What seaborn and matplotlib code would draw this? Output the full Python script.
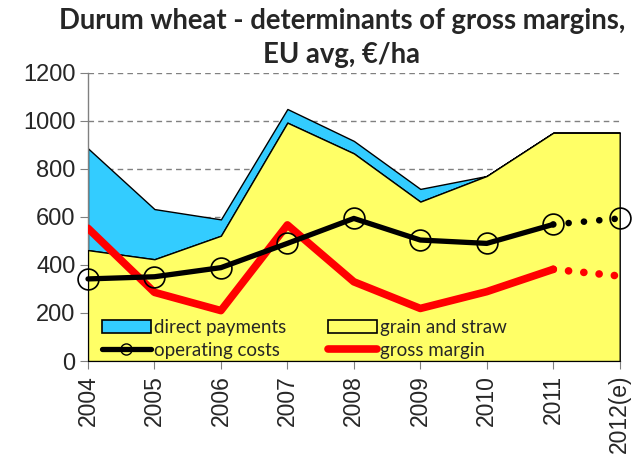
import numpy as np
import pandas as pd
import seaborn as sns
import matplotlib.pyplot as plt
from matplotlib.patches import Patch
from matplotlib.lines import Line2D

# Datos (EUR/ha)
years = ["2004", "2005", "2006", "2007", "2008", "2009", "2010", "2011", "2012(e)"]
grain_straw = [462, 424, 522, 993, 865, 664, 771, 951, 951]
direct_payments = [424, 209, 68, 57, 52, 53, 0, 0, 0]
operating_costs = [342, 351, 389, 490, 594, 504, 490, 569, 594]
gross_margin = [553, 286, 210, 567, 330, 219, 289, 382, 354]

df = pd.DataFrame({
    "x": np.arange(len(years)),
    "grain": grain_straw,
    "total": np.array(grain_straw) + np.array(direct_payments),
    "costs": operating_costs,
    "margin": gross_margin,
})
obs = df.iloc[:8]
est = df.iloc[7:]

sns.set_style("white")
plt.rcParams["font.family"] = ["Liberation Sans", "DejaVu Sans"]

fig = plt.figure(figsize=(6.33, 4.59), dpi=100)
ax = fig.add_axes([0.139, 0.2135, 0.840, 0.6275])

yellow = "#FFFF66"
blue = "#33CCFF"

# Areas apiladas
ax.fill_between(df["x"], df["grain"], df["total"], facecolor=blue,
                edgecolor="black", linewidth=1, zorder=2)
ax.fill_between(df["x"], 0, df["grain"], facecolor=yellow,
                edgecolor="black", linewidth=1, zorder=3)

# Costes operativos
sns.lineplot(data=obs, x="x", y="costs", ax=ax, color="black", lw=3.8,
             marker="o", markersize=15, markerfacecolor="none",
             markeredgecolor="black", markeredgewidth=1.2, zorder=5, clip_on=False)
sns.lineplot(data=est, x="x", y="costs", ax=ax, color="black", lw=4.8,
             linestyle=(0, (0.01, 2.3)), dash_capstyle="round", zorder=5, clip_on=False)
ax.plot(est["x"].iloc[-1:], est["costs"].iloc[-1:], "o", ms=15, mfc="none",
        mec="black", mew=1.2, zorder=6, clip_on=False)

# Margen bruto
sns.lineplot(data=obs, x="x", y="margin", ax=ax, color="#FF0000", lw=5.5,
             zorder=4, solid_capstyle="round")
sns.lineplot(data=est, x="x", y="margin", ax=ax, color="#FF0000", lw=5.5,
             linestyle=(0, (0.01, 2.0)), dash_capstyle="round", zorder=4, clip_on=False)

ax.set_xlim(0, 8)
ax.set_ylim(0, 1200)
ax.set_yticks(range(0, 1201, 200))
ax.set_xticks(range(len(years)))
ax.set_xticklabels(years, rotation=90, fontsize=16.5)
ax.tick_params(axis="y", labelsize=17, left=True, length=6, color="#808080", pad=3)
ax.tick_params(axis="x", bottom=True, length=6, color="#808080", pad=4)
ax.set_xlabel("")
ax.set_ylabel("")

ax.grid(axis="y", color="#808080", linestyle=(0, (4, 3)), linewidth=1)
ax.set_axisbelow(True)
for s in ["top", "right"]:
    ax.spines[s].set_visible(False)
for s in ["left", "bottom"]:
    ax.spines[s].set_color("#808080")
    ax.spines[s].set_linewidth(1)

handles = [
    Patch(facecolor=blue, edgecolor="black", linewidth=1.2),
    Line2D([], [], color="black", lw=3.8, marker="o", ms=8, mfc="none", mec="black"),
    Patch(facecolor=yellow, edgecolor="black", linewidth=1.2),
    Line2D([], [], color="#FF0000", lw=5.5, solid_capstyle="round"),
]
labels = ["direct payments", "operating costs", "grain and straw", "gross margin"]
leg = ax.legend(handles, labels, ncol=2, loc="lower left", frameon=False,
                prop={"family": "Lato", "size": 13.5}, handlelength=2.6,
                handletextpad=0.2, columnspacing=2.2, labelspacing=0.3,
                borderaxespad=0.0, bbox_to_anchor=(0.012, -0.018))
leg.set_zorder(7)

fig.text(0.54, 0.982, "Durum wheat - determinants of gross margins,\nEU avg, \u20ac/ha",
         ha="center", va="top", fontsize=19.8, fontweight="bold", family="Lato",
         linespacing=1.38)

fig.savefig("out.png", dpi=100)
